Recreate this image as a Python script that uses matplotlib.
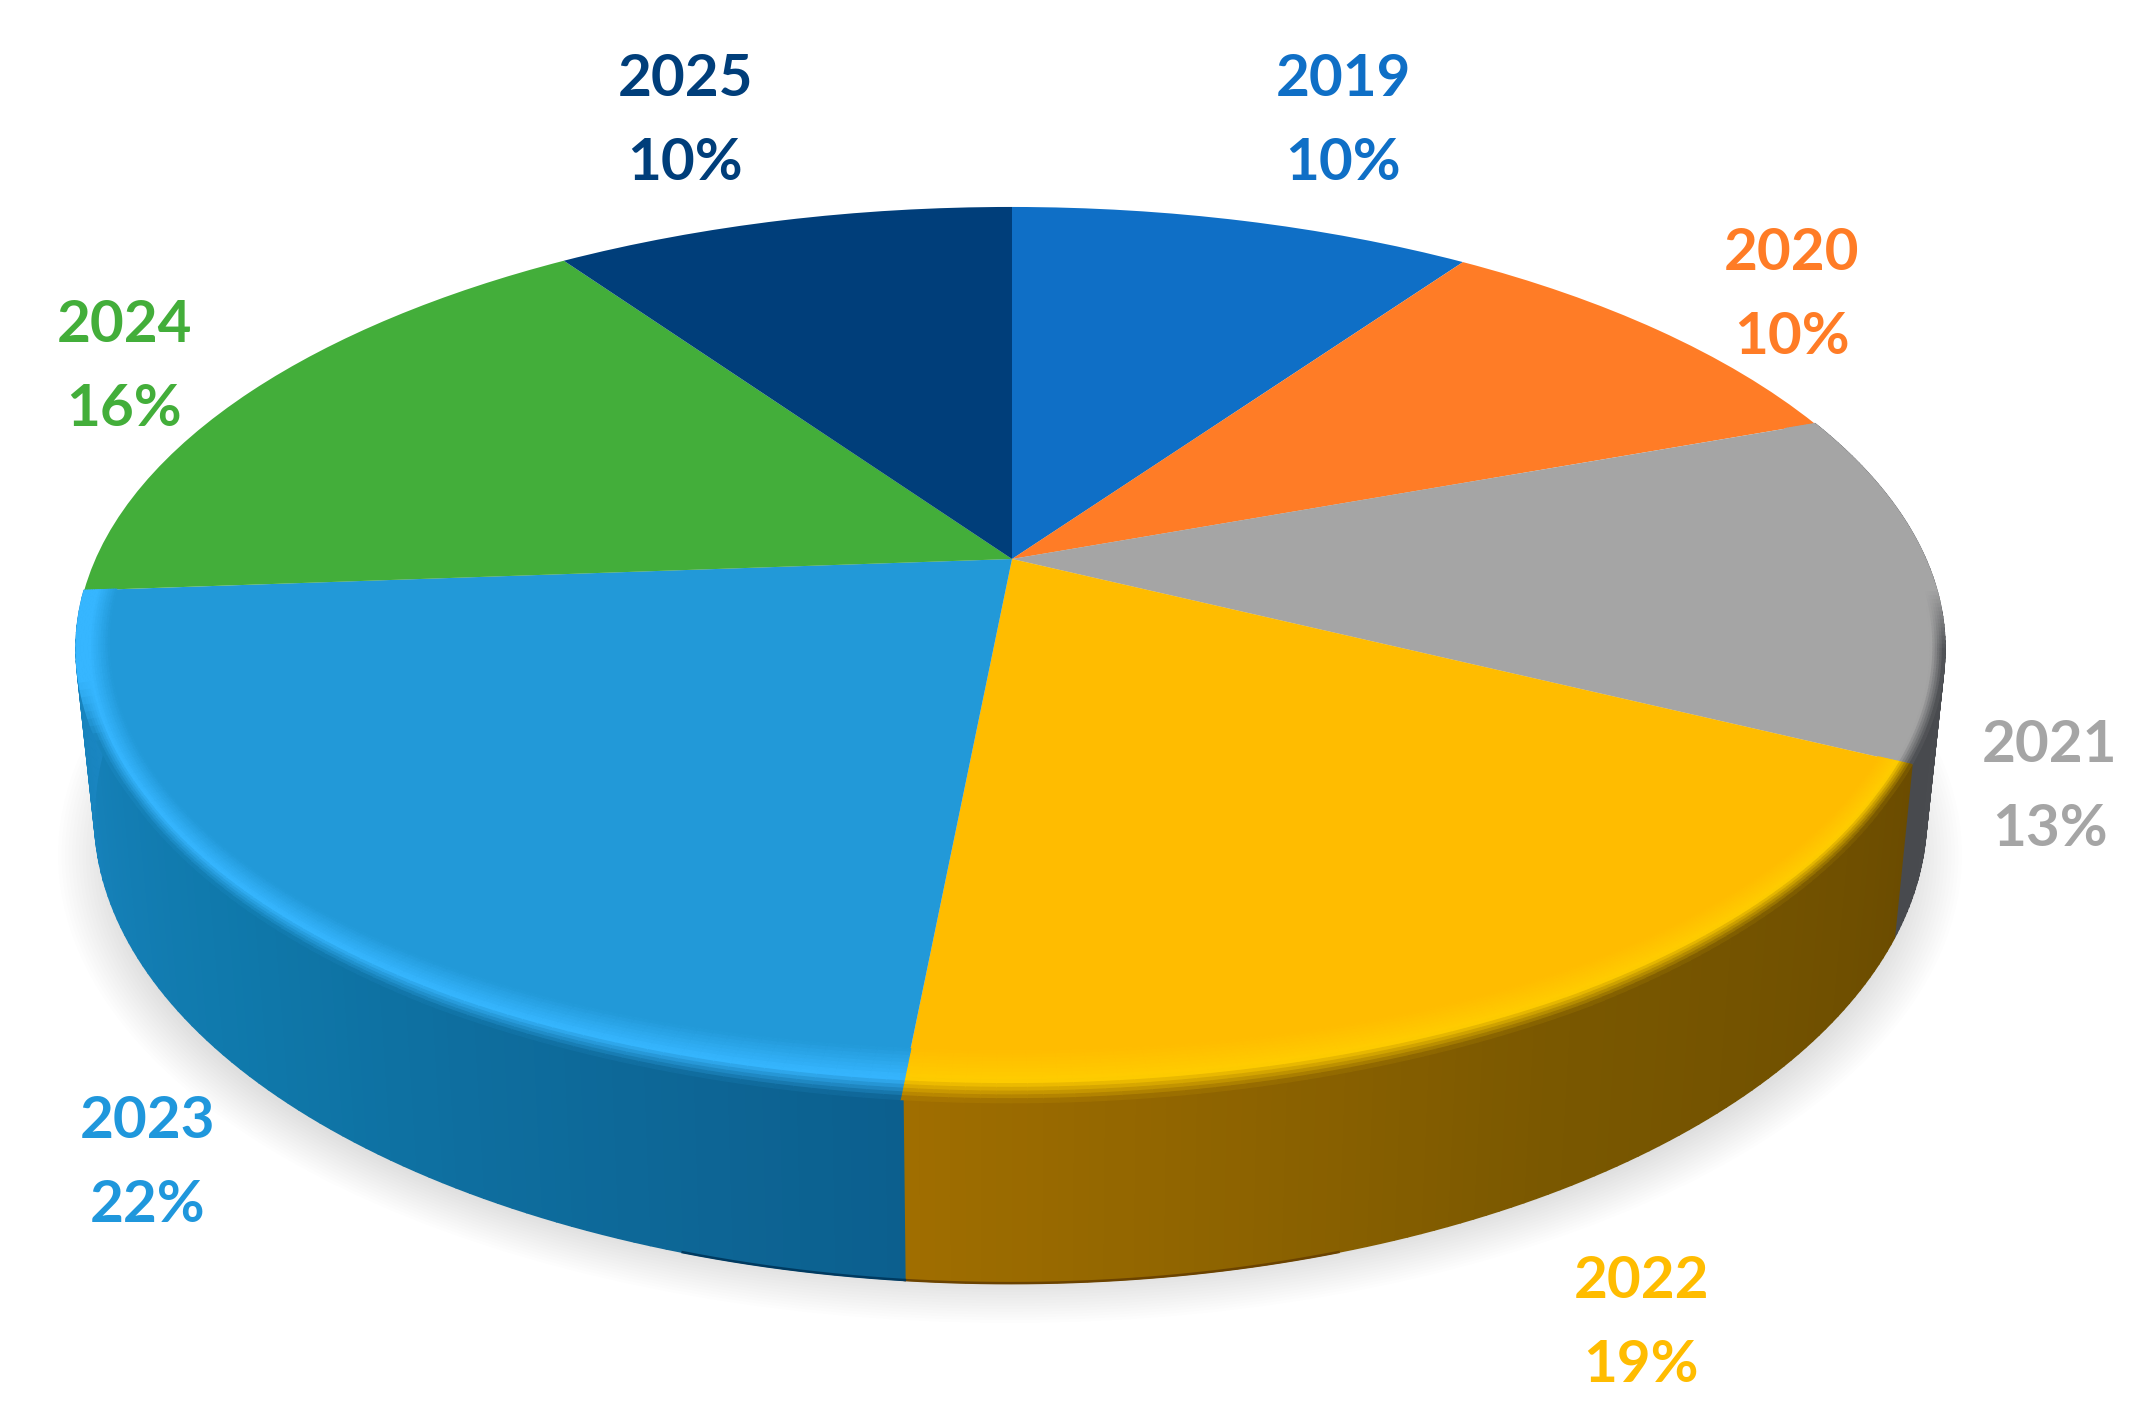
import numpy as np
import matplotlib
matplotlib.use('Agg')
import matplotlib.pyplot as plt
from matplotlib.collections import PolyCollection
from matplotlib.colors import to_rgb
from matplotlib.patches import Ellipse
from matplotlib.transforms import Transform

years = ['2019', '2020', '2021', '2022', '2023', '2024', '2025']
percent_labels = ['10%', '10%', '13%', '19%', '22%', '16%', '10%']
shares = [9.75, 9.69, 12.86, 19.22, 22.32, 16.49, 9.67]
colors = ['#0f6fc6', '#ff7c26', '#a5a5a5', '#ffbc00', '#2299d8', '#43ae3a', '#003e7a']
label_colors = ['#0f6fc6', '#ff7c26', '#a5a5a5', '#ffbc00', '#1f97dc', '#43ae3a', '#003e7a']
label_x = [1343, 1792, 2050, 1641, 148, 124, 685]
label_y = [79, 253, 746, 1282, 1122, 326, 79]

# only these slices show a side wall: slice index, wall colours along the rim, highlight
wall_slices = [2, 3, 4]
wall_colors = {2: ['#4c4e52', '#4a4c50', '#484a4e'],
               3: ['#6b4c00', '#7a5800', '#a06e00'],
               4: ['#0c5f8e', '#0f78aa', '#1a86c2']}
highlight = {2: '#a5a5a5', 3: '#ffcd00', 4: '#36b6ff'}
bottom_edge = {2: '#3c3e42', 3: '#6b4300', 4: '#003a60'}

APEX_X = 1012
APEX_Y = 559
K = 0.2027
M = 0.0016


class DiscTransform(Transform):
    # flat pie coordinates to pixels, with perspective
    input_dims = 2
    output_dims = 2
    is_separable = False
    has_inverse = False

    def __init__(self, a, b, apex_y):
        super().__init__()
        self.a = a
        self.b = b
        self.apex_y = apex_y

    def transform_non_affine(self, values):
        values = np.asarray(values, dtype=float)
        x = values[:, 0]
        y = values[:, 1]
        den = 1 + K * y + M * x
        return np.column_stack((APEX_X + self.a * x / den, self.apex_y - self.b * y / den))


top_disc = DiscTransform(915, 423.4, APEX_Y)
bottom_disc = DiscTransform(897, 449, 720)


def on_disc(disc, theta, r=1.0):
    return disc.transform_non_affine(np.column_stack((r * np.sin(theta), r * np.cos(theta))))


def mix(c1, c2, t):
    return np.array(to_rgb(c1)) * (1 - t) + np.array(to_rgb(c2)) * t


def along(stops, t):
    pos = t * (len(stops) - 1)
    i = min(int(pos), len(stops) - 2)
    return mix(stops[i], stops[i + 1], pos - i)


fig = plt.figure(figsize=(10.715, 7.115), dpi=200)
ax = fig.add_axes([0, 0, 1, 1])

wedges, _ = ax.pie(shares, colors=colors, startangle=90, counterclock=False, radius=1,
                   wedgeprops={'linewidth': 0})
for w in wedges:
    w.set_transform(top_disc + ax.transData)
    w.set_zorder(4)

ax.set_aspect('auto')
ax.set_xlim(0, 2143)
ax.set_ylim(1423, 0)
ax.axis('off')

# soft shadow under the disc
for i in range(16):
    ax.add_patch(Ellipse((1010, 855), 2 * (952 - 3.5 * i), 2 * (468 - 2.8 * i),
                         facecolor='black', alpha=0.0075, linewidth=0, zorder=1))

edges = np.concatenate(([0], np.cumsum(shares))) / np.sum(shares) * 2 * np.pi

for idx in wall_slices:
    th = np.linspace(edges[idx], edges[idx + 1], 90)
    top = on_disc(top_disc, th)
    bot = on_disc(bottom_disc, th)

    # side wall
    polys = []
    cols = []
    for j in range(len(th) - 1):
        polys.append([top[j], top[j + 1], bot[j + 1], bot[j]])
        cols.append(along(wall_colors[idx], (j + 0.5) / (len(th) - 1)))
    ax.add_collection(PolyCollection(polys, facecolors=cols, edgecolors=cols, linewidths=0.6, zorder=2))
    # darker lip only along the lowest part of the rim
    low = bot[:, 1] > 1250
    if low.any():
        ax.plot(bot[low, 0], bot[low, 1], color=bottom_edge[idx], lw=0.9, zorder=3)

    # rounded edge between top and wall
    polys = []
    cols = []
    steps = np.linspace(0, 1, 15)
    side_start = 590 if idx == 2 or idx == 3 else 680
    for j in range(len(th) - 1):
        mid = (th[j] + th[j + 1]) / 2
        p = on_disc(top_disc, np.array([mid]))[0]
        dist = np.hypot(p[0] - APEX_X, p[1] - APEX_Y)
        # band is about 32 px wide whatever the foreshortening, and hangs a bit over the wall at the front
        dr = 32 / dist
        over = 10 / dist * np.clip((p[1] - 800) / 200, 0, 1)
        f = np.clip((p[1] - side_start) / 60, 0, 1)
        wall_c = along(wall_colors[idx], (j + 0.5) / (len(th) - 1))
        outer = mix(highlight[idx], wall_c, f)
        for i in range(len(steps) - 1):
            t = (steps[i] + steps[i + 1]) / 2
            r1 = 1 - dr + (dr + over) * steps[i]
            r2 = 1 - dr + (dr + over) * steps[i + 1]
            a = on_disc(top_disc, th[j:j + 2], r1)
            b = on_disc(top_disc, th[j:j + 2], r2)
            polys.append([a[0], a[1], b[1], b[0]])
            if t < 0.6:
                cols.append(mix(colors[idx], highlight[idx], t / 0.6))
            else:
                cols.append(mix(highlight[idx], outer, (t - 0.6) / 0.4))
    ax.add_collection(PolyCollection(polys, facecolors=cols, edgecolors=cols, linewidths=0.5, zorder=5))

for i in range(len(years)):
    ax.text(label_x[i], label_y[i], years[i], color=label_colors[i], family='Lato', weight='bold',
            fontsize=21, ha='center', va='center', zorder=6)
    ax.text(label_x[i], label_y[i] + 84, percent_labels[i], color=label_colors[i], family='Lato', weight='bold',
            fontsize=21, ha='center', va='center', zorder=6)

plt.savefig('out.png', dpi=200)
